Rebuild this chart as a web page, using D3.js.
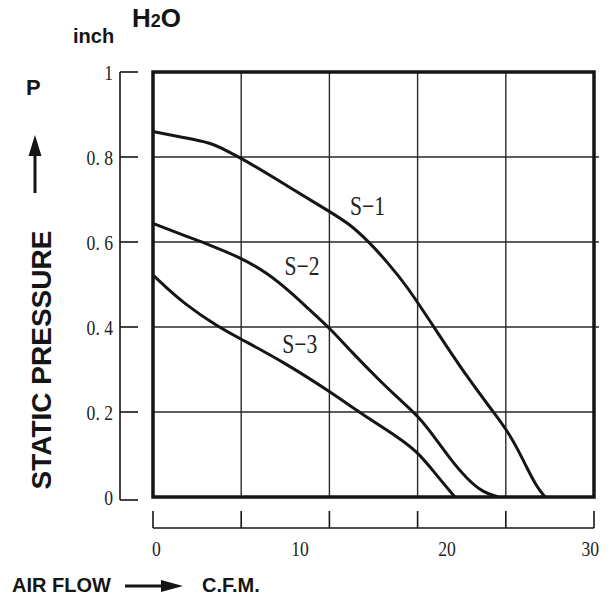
<!DOCTYPE html>
<html><head><meta charset="utf-8">
<script src="https://cdn.jsdelivr.net/npm/d3@7"></script>
<style>html,body{margin:0;padding:0;background:#fff;}</style>
</head><body>
<svg id="c" width="608" height="599"></svg>
<script>
// Data (CFM vs inch H2O)
const s1X = [0, 2, 3.9, 5, 6.03, 9, 12.04, 13.4, 14.76, 16, 17.26, 19.07, 21.4, 23.38, 24.2, 24.8, 25.42, 26.1, 26.67];
const s1Y = [0.86, 0.846, 0.834, 0.815, 0.797, 0.735, 0.671, 0.642, 0.598, 0.55, 0.497, 0.402, 0.28, 0.19, 0.15, 0.113, 0.07, 0.024, 0];
const s2X = [0, 2.06, 3.88, 6.03, 7.73, 9.3, 10.6, 12.04, 13.4, 15.67, 16.8, 18.05, 19.07, 20.2, 21.34, 22.47, 23.5];
const s2Y = [0.644, 0.616, 0.593, 0.562, 0.528, 0.484, 0.442, 0.397, 0.345, 0.265, 0.229, 0.19, 0.145, 0.09, 0.043, 0.01, 0];
const s3X = [0, 1.0, 2.06, 4.33, 6.07, 8.86, 12.04, 14.3, 16.8, 17.94, 18.84, 19.75, 20.54];
const s3Y = [0.522, 0.49, 0.457, 0.402, 0.37, 0.318, 0.248, 0.193, 0.138, 0.107, 0.071, 0.032, 0];
const seriesNames = ["S\u22121", "S\u22122", "S\u22123"];
const labelPos = [[13.4, 0.664], [8.95, 0.522], [8.8, 0.339]]; // label anchor in data units
const yTicks = [0, 0.2, 0.4, 0.6, 0.8, 1];
const yTickLabels = ["0", "0. 2", "0. 4", "0. 6", "0. 8", "1"];
const xGrid = [0, 6, 12, 18, 24, 30];
const xTickLabels = [0, 10, 20, 30];

const svg = d3.select("#c");
const ink = "#151515";
const x = d3.scaleLinear().domain([0, 30]).range([153, 594]);
const y = d3.scaleLinear().domain([0, 1]).range([497, 72]);

// grid
const g = svg.append("g").attr("stroke", "#2a2a2a").attr("stroke-width", 1.4);
xGrid.slice(1, -1).forEach(v => g.append("line").attr("x1", x(v)).attr("x2", x(v)).attr("y1", y(1)).attr("y2", y(0)));
yTicks.slice(1, -1).forEach(v => g.append("line").attr("x1", x(0)).attr("x2", v >= 0.4 ? x(30) + 5 : x(30)).attr("y1", y(v)).attr("y2", y(v)));

// frame
svg.append("rect").attr("x", x(0)).attr("y", y(1)).attr("width", x(30) - x(0)).attr("height", y(0) - y(1))
  .attr("fill", "none").attr("stroke", ink).attr("stroke-width", 3.5);

// curves
const line = d3.line().x(d => x(d[0])).y(d => y(d[1])).curve(d3.curveBasis);
[[s1X, s1Y], [s2X, s2Y], [s3X, s3Y]].forEach(([xs, ys]) => {
  svg.append("path").datum(xs.map((v, i) => [v, ys[i]])).attr("d", line)
    .attr("fill", "none").attr("stroke", ink).attr("stroke-width", 3);
});

const serif = "'Liberation Serif','DejaVu Serif',serif";
function stext(px, py, t, size, anchor) {
  svg.append("text").attr("transform", `translate(${px},${py}) scale(0.8,1)`)
    .attr("text-anchor", anchor).attr("font-family", serif).attr("font-size", size)
    .attr("fill", "#222").text(t);
}
seriesNames.forEach((n, i) => stext(x(labelPos[i][0]), y(labelPos[i][1]), n, 27, "start"));

// left bracket axis
const la = svg.append("g").attr("stroke", ink).attr("stroke-width", 1.6);
la.append("line").attr("x1", 120).attr("x2", 120).attr("y1", y(1)).attr("y2", y(0) + 3);
yTicks.forEach(v => la.append("line").attr("x1", 120).attr("x2", 138).attr("y1", y(v) + (v === 0 ? 3 : 0)).attr("y2", y(v) + (v === 0 ? 3 : 0)));
yTicks.forEach((v, i) => stext(113, y(v) + 8, yTickLabels[i], 22, "end"));

// bottom bracket axis
const ba = svg.append("g").attr("stroke", ink).attr("stroke-width", 1.6);
ba.append("line").attr("x1", x(0)).attr("x2", x(30)).attr("y1", 528).attr("y2", 528);
xGrid.forEach(v => ba.append("line").attr("x1", x(v)).attr("x2", x(v)).attr("y1", 528).attr("y2", 511));
xTickLabels.forEach(v => stext(x(v) + (v === 0 ? -1 : v === 30 ? 5 : 0), 556, String(v), 22, v === 0 ? "start" : v === 30 ? "end" : "middle"));

// sans labels
const sans = "'Liberation Sans',Arial,sans-serif";
svg.append("text").attr("x", 73).attr("y", 43).attr("font-family", sans).attr("font-weight", "bold").attr("font-size", 20).attr("fill", ink).text("inch");
const h = svg.append("text").attr("x", 132).attr("y", 27).attr("font-family", sans).attr("font-weight", "bold").attr("font-size", 26).attr("fill", ink);
h.append("tspan").text("H");
h.append("tspan").attr("font-size", 18).text("2");
h.append("tspan").text("O");
svg.append("text").attr("x", 26).attr("y", 95).attr("font-family", sans).attr("font-weight", "bold").attr("font-size", 22).attr("fill", ink).text("P");
// up arrow
svg.append("line").attr("x1", 35).attr("x2", 35).attr("y1", 150).attr("y2", 193).attr("stroke", ink).attr("stroke-width", 3);
svg.append("path").attr("d", "M35,135 L41.5,156 L28.5,156 Z").attr("fill", ink);
svg.append("text").attr("transform", "translate(51,360) rotate(-90)").attr("text-anchor", "middle")
  .attr("font-family", sans).attr("font-weight", "bold").attr("font-size", 28).attr("fill", ink).text("STATIC PRESSURE");
svg.append("text").attr("x", 12).attr("y", 592).attr("font-family", sans).attr("font-weight", "bold").attr("font-size", 20).attr("fill", ink).text("AIR FLOW");
svg.append("line").attr("x1", 125).attr("x2", 166).attr("y1", 586).attr("y2", 586).attr("stroke", ink).attr("stroke-width", 3);
svg.append("path").attr("d", "M183,586 L161,580 L161,592 Z").attr("fill", ink);
svg.append("text").attr("x", 202).attr("y", 592).attr("font-family", sans).attr("font-weight", "bold").attr("font-size", 20).attr("fill", ink).text("C.F.M.");
</script>
</body></html>
